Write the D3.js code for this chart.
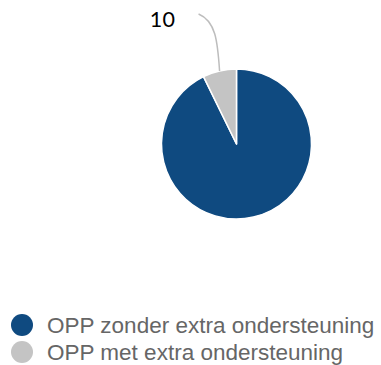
<!DOCTYPE html>
<html>
<head>
<meta charset="utf-8">
<script src="https://cdn.jsdelivr.net/npm/d3@7/dist/d3.min.js"></script>
<style>
  html, body { margin: 0; padding: 0; background: #fff; }
  svg { display: block; }
</style>
</head>
<body>
<svg id="chart" width="381" height="365"></svg>
<script>
// Share of OPP with and without extra support
const categories = ["OPP zonder extra ondersteuning", "OPP met extra ondersteuning"];
const values = [128, 10];
const colors = ["#0f4a80", "#c4c4c4"];
const shownLabels = [false, true];

const svg = d3.select("#chart");
const cx = 236.5, cy = 144, r = 75;

const pie = d3.pie().sort(null).value(d => d.value);
const data = categories.map((c, i) => ({ name: c, value: values[i], color: colors[i], label: shownLabels[i] }));
const arcs = pie(data);
const arc = d3.arc().innerRadius(0).outerRadius(r);

const g = svg.append("g").attr("transform", `translate(${cx},${cy})`);
g.selectAll("path.slice").data(arcs).join("path")
  .attr("class", "slice")
  .attr("d", arc)
  .attr("fill", d => d.data.color)
  .attr("stroke", "#fff")
  .attr("stroke-width", 1.5)
  .attr("stroke-linejoin", "round");

// Leader line and value label for the small slice
arcs.filter(d => d.data.label).forEach(d => {
  const mid = (d.startAngle + d.endAngle) / 2;
  const p0 = [r * Math.sin(mid), -r * Math.cos(mid)];
  const p2 = [p0[0] - 21, p0[1] - 57];
  const c1 = [p0[0] - 2, p0[1] - 30];
  const c2 = [p0[0] - 4, p0[1] - 50];
  g.append("path")
    .attr("d", `M${p0}C${c1} ${c2} ${p2}`)
    .attr("fill", "none")
    .attr("stroke", "#bdbdbd")
    .attr("stroke-width", 1.5);
  g.append("text")
    .attr("x", p2[0] - 23)
    .attr("y", p2[1] + 13)
    .attr("text-anchor", "end")
    .attr("font-family", "Lato, 'DejaVu Sans', sans-serif")
    .attr("font-size", 21.5)
    .attr("fill", "#000")
    .attr("letter-spacing", 0.5)
    .text(d3.format("d")(d.value));
});

// Legend
const lg = svg.append("g").selectAll("g").data(data).join("g")
  .attr("transform", (d, i) => `translate(22,${325 + i * 27})`);
lg.append("circle").attr("r", 11).attr("fill", d => d.color);
lg.append("text")
  .attr("x", 25)
  .attr("y", 8)
  .attr("font-family", "'Liberation Sans', Arial, sans-serif")
  .attr("font-size", 22.5)
  .attr("fill", "#666")
  .text(d => d.name);
</script>
</body>
</html>
